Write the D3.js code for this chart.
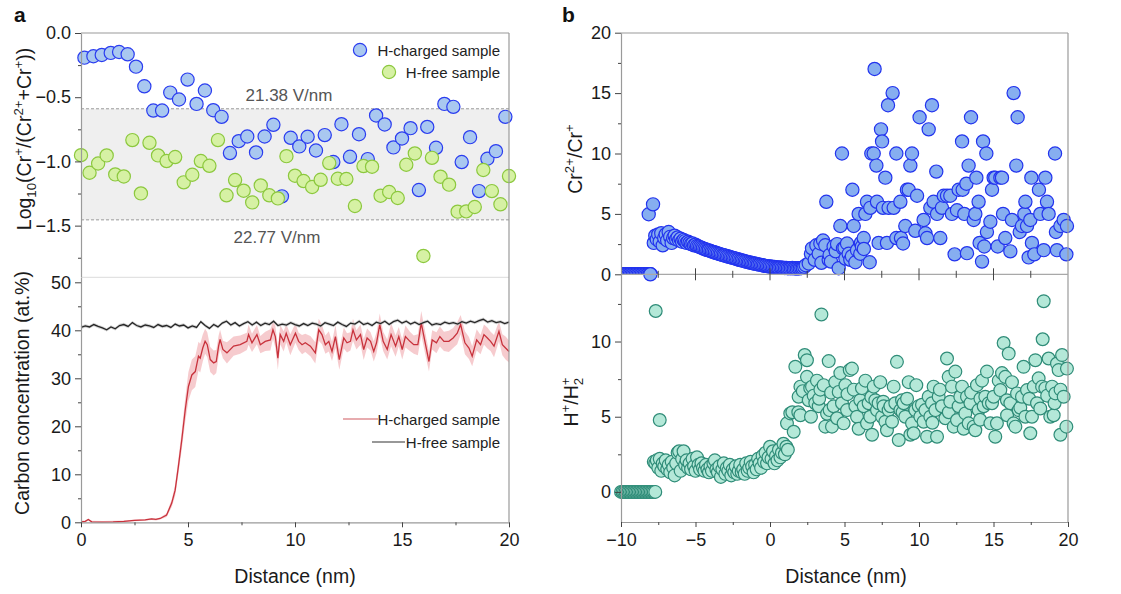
<!DOCTYPE html>
<html>
<head>
<meta charset="utf-8">
<script src="https://cdn.jsdelivr.net/npm/d3@7"></script>
<style>
  body { margin: 0; background: #fff; }
  svg text { font-family: "Liberation Sans", Arial, sans-serif; }
</style>
</head>
<body>
<svg id="chart" width="1121" height="594"></svg>
<script>
// ---------- Panel a (top): Log10(Cr+/(Cr2+ + Cr+)) vs distance ----------
const logChargedX = [0.16,0.58,0.97,1.39,1.78,2.18,2.57,2.96,3.38,3.79,4.17,4.58,4.98,5.40,5.79,6.18,6.57,6.96,7.37,7.77,8.18,8.58,8.99,9.39,9.80,10.20,10.59,10.98,11.39,11.79,12.17,12.57,12.99,13.40,13.79,14.19,14.60,15.00,15.40,15.79,16.18,16.59,16.98,17.40,17.79,18.18,18.60,18.99,19.39,19.83];
const logChargedY = [-0.192,-0.181,-0.171,-0.155,-0.148,-0.166,-0.262,-0.415,-0.604,-0.604,-0.464,-0.518,-0.363,-0.552,-0.448,-0.601,-0.653,-0.935,-0.842,-0.806,-0.930,-0.806,-0.715,-1.272,-0.816,-0.883,-0.808,-0.915,-0.795,-1.005,-0.710,-0.964,-0.788,-0.982,-0.642,-0.712,-0.891,-0.821,-0.741,-1.223,-0.731,-0.894,-0.552,-0.575,-1.005,-0.811,-1.231,-0.979,-0.920,-0.653];
const logFreeX = [0,0.4,0.8,1.2,1.6,2.0,2.4,2.8,3.2,3.6,4.0,4.4,4.8,5.2,5.6,6.0,6.4,6.8,7.2,7.6,8.0,8.4,8.8,9.2,9.6,10.0,10.4,10.8,11.2,11.6,12.0,12.4,12.8,13.2,13.6,14.0,14.4,14.8,15.2,15.6,16.0,16.4,16.8,17.2,17.6,18.0,18.4,18.8,19.2,19.6,20.0];
const logFreeY = [-0.951,-1.088,-1.016,-0.953,-1.101,-1.117,-0.834,-1.249,-0.855,-0.953,-0.997,-0.966,-1.163,-1.104,-0.997,-1.034,-0.834,-1.264,-1.145,-1.228,-1.319,-1.187,-1.264,-1.288,-0.959,-1.111,-1.153,-1.199,-1.143,-1.013,-1.135,-1.137,-1.347,-1.036,-1.041,-1.267,-1.238,-1.285,-1.026,-0.938,-1.736,-0.972,-1.119,-1.181,-1.391,-1.389,-1.355,-1.067,-1.231,-1.334,-1.114];
// evaporation-field band limits and their labels
const fieldBand = [-0.59, -1.455];
const fieldLabels = ["21.38 V/nm", "22.77 V/nm"];

// ---------- Panel a (bottom): carbon concentration profiles ----------
const carbonChargedX = [0,0.2,0.34,0.5,1.0,1.5,2.0,2.5,3.0,3.3,3.5,3.7,4.0,4.24,4.4,4.55,4.71,4.87,5.02,5.18,5.34,5.49,5.57,5.69,5.8,5.9,6.04,6.2,6.32,6.43,6.5,6.63,6.82,7.13,7.44,7.75,7.83,7.99,8.22,8.38,8.61,8.85,8.97,9.08,9.2,9.31,9.47,9.59,9.78,10.02,10.17,10.33,10.48,10.72,10.95,11.11,11.26,11.42,11.58,11.73,11.89,12.07,12.28,12.43,12.59,12.71,12.87,13.06,13.21,13.37,13.53,13.68,13.81,13.96,14.12,14.31,14.49,14.7,14.85,15.01,15.16,15.37,15.55,15.74,15.9,16.1,16.26,16.41,16.61,16.77,16.96,17.19,17.39,17.58,17.74,17.94,18.13,18.28,18.49,18.67,18.83,18.99,19.14,19.3,19.53,19.69,19.84,20.0];
const carbonChargedY = [0.1,0.2,0.6,0.1,0.05,0.1,0.2,0.4,0.5,0.7,0.6,0.8,1.5,4.0,6.7,11.6,17.2,23.4,28.3,30.7,31.4,34.6,34.2,36.3,37.7,37.0,33.9,33.2,33.5,36.7,38.1,36.0,35.3,36.7,37.0,37.7,39.1,37.4,39.1,37.0,37.7,38.0,40.1,38.7,34.2,39.1,37.7,39.4,37.0,39.4,37.7,37.0,37.4,36.7,35.3,40.1,39.1,37.0,37.7,35.6,38.7,33.9,38.4,37.4,37.7,40.1,38.0,39.1,36.0,38.4,37.7,35.6,37.4,41.2,37.7,36.0,39.1,36.7,38.7,36.0,38.7,37.7,37.0,37.0,41.5,37.0,33.5,38.0,37.4,38.7,37.7,37.7,38.4,39.4,41.2,37.4,36.3,34.6,38.0,37.0,39.1,38.4,37.7,36.7,39.8,37.0,36.3,35.6];
const carbonChargedErr = [0.2,0.2,0.2,0.2,0.2,0.2,0.2,0.2,0.2,0.2,0.2,0.2,0.4,0.8,1.2,1.6,2.0,2.5,3.0,3.2,3.2,3.0,3.0,2.8,2.6,2.6,2.6,2.6,2.4,2.2,
  2.0,1.8,2.2,2.0,1.9,1.8,2.1,1.9,2.0,1.8,2.0,2.2,1.9,2.3,2.4,2.0,2.1,1.9,2.2,2.0,1.8,2.0,1.9,2.1,2.2,2.3,2.0,1.9,2.1,2.0,
  2.4,2.1,2.2,2.0,1.9,2.3,2.0,2.1,2.2,2.0,1.9,2.1,2.2,2.3,2.0,2.1,2.4,2.2,2.0,2.1,2.3,2.0,1.9,2.2,2.5,2.3,2.1,2.0,2.2,2.1,
  2.0,2.2,2.1,2.3,2.0,2.4,2.3,2.1,2.2,2.0,2.1,2.2,2.0,2.3,2.1,2.2,2.4,2.3];
const carbonFree = [[0,40.6],[0.2,40.9],[0.4,40.7],[0.6,41.2],[0.8,40.8],[1.0,40.5],[1.2,40.1],[1.4,40.7],[1.6,40.3],[1.8,41.0],[2.0,41.2],[2.2,40.8],[2.4,41.6],[2.6,41.0],[2.8,40.7],[3.0,41.1],[3.2,40.9],[3.4,40.6],[3.6,41.2],[3.8,40.8],[4.0,41.0],[4.2,40.6],[4.4,41.3],[4.6,40.9],[4.8,41.1],[5.0,40.5],[5.2,40.9],[5.4,40.6],[5.6,41.8],[5.8,41.0],[6.0,40.4],[6.2,41.2],[6.4,40.7],[6.6,41.5],[6.8,41.9],[7.0,41.1],[7.2,41.6],[7.4,40.9],[7.6,41.4],[7.8,41.8],[8.0,41.1],[8.2,41.7],[8.4,41.0],[8.6,41.5],[8.8,41.2],[9.0,41.9],[9.2,41.0],[9.4,41.3],[9.6,41.1],[9.8,41.6],[10.0,41.2],[10.2,40.9],[10.4,41.4],[10.6,41.0],[10.8,41.5],[11.0,41.3],[11.2,40.9],[11.4,41.6],[11.6,41.3],[11.8,41.0],[12.0,41.7],[12.2,41.2],[12.4,40.8],[12.6,41.5],[12.8,41.3],[13.0,41.9],[13.2,41.2],[13.4,41.5],[13.6,41.0],[13.8,41.7],[14.0,41.4],[14.2,41.9],[14.4,41.2],[14.6,41.8],[14.8,42.1],[15.0,41.5],[15.2,41.9],[15.4,41.3],[15.6,41.7],[15.8,41.2],[16.0,41.6],[16.2,41.9],[16.4,41.1],[16.6,41.4],[16.8,41.2],[17.0,41.7],[17.2,41.4],[17.4,41.6],[17.6,41.3],[17.8,41.8],[18.0,41.5],[18.2,41.9],[18.4,41.6],[18.6,42.0],[18.8,42.3],[19.0,41.7],[19.2,42.0],[19.4,41.6],[19.6,41.8],[19.8,41.4],[20.0,41.7]];
const carbonFreeErr = 0.35;

// ---------- Panel b (top): Cr2+/Cr+ ratio ----------
const crZero = [[-10.0,0],[-9.9,0],[-9.8,0],[-9.7,0],[-9.6,0],[-9.5,0],[-9.4,0],[-9.3,0],[-9.2,0],[-9.1,0],[-9.0,0],[-8.9,0],[-8.8,0],[-8.7,0],[-8.6,0],[-8.5,0],[-8.4,0],[-8.3,0],[-8.2,0],[-8.1,0],[-8.0,0]];
const crEdge = [[-8.03,0],[-8.14,4.97],[-7.85,5.79]];
const crLow = [[-7.8,2.6],[-7.7,3.2],[-7.6,2.9],[-7.5,3.3],[-7.4,2.7],[-7.3,3.4],[-7.2,2.4],[-7.1,3.0],[-7.0,3.3],[-6.9,2.8],[-6.8,3.5],[-6.7,3.1],[-6.6,2.6],[-6.5,3.0],[-6.4,3.2],[-6.3,2.9],[-6.2,3.05],[-6.1,2.8],[-6.0,2.95],[-5.9,2.7],[-5.8,2.85],[-5.7,2.75],[-5.6,2.6],[-5.5,2.7],[-5.4,2.6],[-5.3,2.5],[-5.2,2.55],[-5.1,2.4],[-5.0,2.45],[-4.9,2.35],[-4.8,2.3],[-4.7,2.25],[-4.6,2.2],[-4.5,2.15],[-4.4,2.1],[-4.3,2.05],[-4.2,2.0],[-4.1,1.98],[-4.0,1.93],[-3.9,1.88],[-3.8,1.85],[-3.7,1.8],[-3.6,1.76],[-3.5,1.72],[-3.4,1.68],[-3.3,1.65],[-3.2,1.6],[-3.1,1.58],[-3.0,1.55],[-2.9,1.5],[-2.8,1.47],[-2.7,1.43],[-2.6,1.4],[-2.5,1.36],[-2.4,1.33],[-2.3,1.3],[-2.2,1.25],[-2.1,1.22],[-2.0,1.18],[-1.9,1.15],[-1.8,1.12],[-1.7,1.08],[-1.6,1.05],[-1.5,1.02],[-1.4,0.99],[-1.3,0.96],[-1.2,0.93],[-1.1,0.9],[-1.0,0.88],[-0.9,0.85],[-0.8,0.82],[-0.7,0.8],[-0.6,0.77],[-0.5,0.75],[-0.4,0.72],[-0.3,0.7],[-0.2,0.68],[-0.1,0.66],[0.0,0.64],[0.1,0.62],[0.2,0.6],[0.3,0.6],[0.4,0.58],[0.5,0.57],[0.6,0.55],[0.7,0.56],[0.8,0.54],[0.9,0.53],[1.0,0.52],[1.1,0.53],[1.2,0.5],[1.3,0.51],[1.4,0.5],[1.5,0.52],[1.6,0.49],[1.7,0.5],[1.8,0.48],[1.9,0.5],[2.0,0.49],[2.1,0.52],[2.2,0.55],[2.3,0.62],[2.4,0.75]];
const crScatter = [[2.60,0.9],[2.75,1.7],[2.82,2.15],[3.0,1.2],[3.11,2.4],[3.27,1.7],[3.38,2.55],[3.45,0.95],[3.56,2.8],[3.71,2.4],[3.78,6.0],[3.94,1.2],[4.0,1.6],[4.09,1.05],[4.27,2.3],[4.41,1.9],[4.5,2.5],[4.61,0.5],[4.72,4.0],[4.83,10.0],[4.90,2.15],[5.0,2.2],[5.06,1.3],[5.17,2.55],[5.28,1.7],[5.39,1.2],[5.5,1.5],[5.53,7.0],[5.62,4.0],[5.73,1.0],[5.84,2.0],[5.95,5.0],[6.06,1.7],[6.1,2.6],[6.17,2.3],[6.29,3.0],[6.3,2.1],[6.40,5.0],[6.51,6.0],[6.69,1.0],[6.73,5.5],[6.80,10.0],[6.96,10.0],[7.02,17.0],[7.14,9.0],[7.18,6.0],[7.29,2.6],[7.45,12.0],[7.52,11.0],[7.58,5.5],[7.74,8.0],[7.85,2.6],[7.92,14.0],[7.96,5.5],[8.23,15.0],[8.30,5.5],[8.48,10.0],[8.48,3.0],[8.75,6.0],[8.79,3.0],[8.93,2.55],[9.08,4.0],[9.19,7.0],[9.31,7.0],[9.42,9.0],[9.53,10.0],[9.75,3.6],[9.87,6.5],[10.04,13.0],[10.31,4.5],[10.43,3.4],[10.54,3.0],[10.65,12.0],[10.76,5.5],[10.87,14.0],[10.98,6.0],[11.16,8.5],[11.21,5.0],[11.43,3.0],[11.54,5.5],[11.66,6.5],[11.88,6.5],[12.10,6.5],[12.21,5.0],[12.39,1.65],[12.55,5.3],[12.66,7.0],[12.89,11.0],[12.93,7.0],[13.04,5.0],[13.18,7.5],[13.22,1.75],[13.33,9.0],[13.49,13.0],[13.67,4.5],[13.78,5.0],[13.85,8.0],[14.00,6.0],[14.07,2.6],[14.23,1.05],[14.30,11.0],[14.38,2.3],[14.52,10.0],[14.56,3.5],[14.79,4.35],[14.90,7.0],[15.01,8.0],[15.12,8.0],[15.28,2.3],[15.46,8.0],[15.57,8.0],[15.64,5.0],[15.79,3.0],[16.13,1.9],[16.24,4.5],[16.35,15.0],[16.53,9.0],[16.62,13.0],[16.76,3.5],[16.91,4.0],[17.07,5.0],[17.14,6.0],[17.25,4.0],[17.36,1.4],[17.47,4.5],[17.54,8.0],[17.58,2.6],[17.74,1.65],[18.05,7.0],[18.14,5.0],[18.37,2.0],[18.48,8.0],[18.59,6.0],[18.70,5.0],[19.13,10.0],[19.19,3.5],[19.26,2.0],[19.49,4.0],[19.71,4.5],[19.89,1.65],[19.93,4.0]];

// ---------- Panel b (bottom): H+/H2+ ratio ----------
const hZero = [[-10.0,0],[-9.9,0],[-9.8,0],[-9.7,0],[-9.6,0],[-9.5,0],[-9.4,0],[-9.3,0],[-9.2,0],[-9.1,0],[-9.0,0],[-8.9,0],[-8.8,0],[-8.7,0],[-8.6,0],[-8.5,0],[-8.4,0],[-8.3,0],[-8.2,0],[-8.1,0],[-8.0,0],[-7.9,0],[-7.8,0],[-7.7,0]];
const hLow = [[-7.8,2.0],[-7.7,1.9],[-7.6,2.1],[-7.5,1.6],[-7.4,2.2],[-7.3,1.4],[-7.2,1.9],[-7.1,1.7],[-7.0,2.1],[-6.9,1.5],[-6.8,1.8],[-6.7,1.3],[-6.6,2.0],[-6.5,1.6],[-6.4,1.1],[-6.3,1.9],[-6.2,2.6],[-6.1,2.7],[-6.0,1.4],[-5.9,2.2],[-5.8,2.7],[-5.7,1.8],[-5.6,2.1],[-5.5,1.6],[-5.4,1.9],[-5.3,1.5],[-5.2,2.2],[-5.1,1.7],[-5.0,1.4],[-4.9,2.3],[-4.8,1.8],[-4.7,1.5],[-4.6,1.9],[-4.5,1.6],[-4.4,1.4],[-4.3,1.8],[-4.2,1.5],[-4.1,1.3],[-4.0,1.7],[-3.9,1.4],[-3.8,1.9],[-3.7,2.1],[-3.6,1.5],[-3.5,1.3],[-3.4,1.7],[-3.3,1.0],[-3.2,1.5],[-3.1,1.9],[-3.0,1.2],[-2.9,1.6],[-2.8,1.4],[-2.7,1.8],[-2.6,1.1],[-2.5,1.5],[-2.4,1.3],[-2.3,1.7],[-2.2,1.2],[-2.1,1.4],[-2.0,1.8],[-1.9,1.3],[-1.8,1.5],[-1.7,1.2],[-1.6,1.9],[-1.5,1.4],[-1.4,1.6],[-1.3,2.0],[-1.2,1.7],[-1.1,1.3],[-1.0,1.8],[-0.9,1.5],[-0.8,2.2],[-0.7,1.9],[-0.6,1.6],[-0.5,2.4],[-0.4,2.0],[-0.3,2.6],[-0.2,1.9],[-0.1,2.3],[0.0,3.0],[0.1,2.2],[0.2,2.7],[0.3,1.9],[0.4,2.4],[0.5,2.1],[0.6,2.8],[0.7,2.3],[0.8,2.6],[0.9,3.2],[1.0,2.5],[1.1,3.0],[1.2,2.8]];
const hOutliers = [[-7.67,12.03],[-7.4,4.78],[3.45,11.8],[18.37,12.68],[18.3,10.15]];
const hScatter = [[1.14,4.56],[1.36,5.22],[1.5,5.3],[1.59,4.0],[1.70,8.32],[1.9,5.3],[1.92,6.33],[2.04,7.0],[2.04,5.1],[2.2,6.7],[2.33,9.1],[2.48,8.76],[2.48,7.65],[2.60,6.1],[2.7,6.9],[2.75,5.0],[2.82,7.0],[2.93,6.4],[3.04,5.9],[3.15,7.4],[3.27,5.7],[3.3,6.2],[3.38,6.8],[3.60,7.1],[3.71,4.34],[3.83,5.2],[3.94,8.7],[4.00,5.44],[4.1,6.6],[4.16,4.34],[4.27,5.7],[4.38,7.3],[4.50,4.9],[4.61,6.65],[4.72,7.9],[4.83,5.9],[4.94,4.56],[5.06,7.1],[5.17,5.44],[5.2,6.5],[5.35,8.1],[5.50,8.2],[5.62,6.8],[5.73,5.7],[5.84,5.0],[5.95,4.2],[6.06,6.1],[6.17,6.9],[6.29,5.7],[6.40,7.4],[6.51,4.56],[6.62,5.9],[6.73,5.0],[6.8,6.3],[6.85,3.8],[6.96,7.0],[7.07,6.1],[7.18,5.44],[7.29,5.9],[7.40,7.3],[7.52,5.0],[7.6,6.0],[7.63,5.7],[7.74,4.67],[7.85,4.1],[7.96,5.44],[8.08,5.7],[8.19,4.67],[8.30,7.0],[8.41,5.9],[8.52,8.65],[8.64,3.45],[8.75,5.44],[8.86,6.1],[8.9,5.3],[8.97,5.9],[9.08,5.0],[9.2,6.2],[9.31,7.3],[9.42,3.8],[9.53,4.56],[9.64,3.9],[9.75,5.44],[9.82,7.1],[9.98,5.7],[10.09,5.0],[10.2,5.8],[10.31,4.67],[10.43,5.44],[10.54,3.67],[10.65,6.33],[10.76,5.0],[10.87,5.9],[10.9,4.6],[10.98,7.0],[11.10,5.44],[11.21,3.67],[11.32,6.33],[11.4,6.8],[11.54,5.7],[11.77,4.9],[11.88,8.87],[11.99,7.65],[12.0,5.3],[12.10,6.0],[12.21,7.0],[12.33,4.34],[12.44,8.0],[12.55,4.78],[12.66,5.7],[12.77,6.33],[12.89,7.0],[13.00,4.2],[13.11,5.22],[13.22,6.33],[13.33,4.56],[13.45,5.9],[13.5,6.6],[13.67,4.34],[13.78,4.1],[13.89,7.1],[14.00,5.44],[14.1,4.8],[14.12,6.2],[14.23,7.4],[14.34,5.7],[14.45,6.33],[14.56,8.0],[14.68,5.9],[14.79,4.56],[14.90,5.9],[15.01,6.33],[15.12,3.67],[15.23,4.56],[15.35,7.4],[15.46,6.77],[15.57,7.9],[15.68,9.9],[15.79,7.65],[15.9,6.1],[15.91,5.1],[16.02,9.2],[16.13,5.9],[16.24,7.3],[16.35,4.56],[16.47,4.34],[16.58,6.55],[16.69,5.44],[16.8,5.6],[16.91,6.33],[17.02,8.32],[17.14,5.0],[17.25,6.77],[17.4,6.2],[17.47,3.9],[17.58,5.0],[17.70,7.0],[17.81,8.76],[17.92,5.9],[18.03,7.55],[18.14,5.55],[18.26,7.0],[18.48,6.9],[18.6,6.4],[18.70,8.87],[18.81,5.0],[18.93,7.0],[19.04,5.1],[19.1,5.9],[19.15,6.55],[19.26,8.54],[19.37,8.1],[19.49,3.8],[19.5,6.8],[19.60,9.1],[19.71,6.33],[19.89,4.34],[19.93,8.2]];

// ---------- axis ticks ----------
const ticksLogMajor = [0, -0.5, -1.0, -1.5];
const ticksLogMinor = [-0.25, -0.75, -1.25, -1.75];
const ticksCarbonMajor = [0, 10, 20, 30, 40, 50];
const ticksCarbonMinor = [5, 15, 25, 35, 45];
const ticksDistAMajor = [0, 5, 10, 15, 20];
const ticksDistAMinor = [2.5, 7.5, 12.5, 17.5];
const ticksCrMajor = [0, 5, 10, 15, 20];
const ticksCrMinor = [2.5, 7.5, 12.5, 17.5];
const ticksHMajor = [0, 5, 10];
const ticksHMinor = [2.5, 7.5, 12.5];
const ticksDistBMajor = [-10, -5, 0, 5, 10, 15, 20];
const ticksDistBMinor = [-7.5, -2.5, 2.5, 7.5, 12.5, 17.5];

const FONT = '"Liberation Sans", Arial, sans-serif';
const svg = d3.select('#chart');

// scales
const xA = d3.scaleLinear([0, 20], [81, 509]);
const yLog = d3.scaleLinear([-1.9, 0], [277, 33]);
const yCarbon = d3.scaleLinear([0, 51], [522.3, 277.5]);
const xB = d3.scaleLinear([-10, 20], [621, 1068]);
const yCr = d3.scaleLinear([0, 20], [274.3, 32.7]);
const yH = d3.scaleLinear([-2, 14.47], [522, 274.3]);

// text with super/subscripts
function rich(sel, parts, size) {
  let cur = 0;
  parts.forEach(([t, mode, dx]) => {
    const target = mode === 'sup' ? -0.42 * size : mode === 'sub' ? 0.28 * size : 0;
    const ts = sel.append('tspan').text(t).attr('dy', target - cur);
    if (mode) ts.attr('font-size', size * 0.68);
    if (dx) ts.attr('dx', dx);
    cur = target;
  });
}

function styleAxis(g) {
  g.attr('font-family', FONT).attr('font-size', 18);
  g.selectAll('.domain').attr('stroke', '#9a9a9a').attr('stroke-width', 1.2);
  g.selectAll('.tick line').attr('stroke', '#444').attr('stroke-width', 1);
  g.selectAll('.tick text').attr('fill', '#1a1a1a');
}
function leftAxis(scale, x, majors, minors, fmt) {
  const g = svg.append('g').attr('transform', `translate(${x},0)`)
    .call(d3.axisLeft(scale).tickValues(majors).tickSize(6).tickSizeOuter(0).tickPadding(4).tickFormat(fmt));
  styleAxis(g);
  const m = svg.append('g').attr('transform', `translate(${x},0)`)
    .call(d3.axisLeft(scale).tickValues(minors).tickSize(3).tickFormat(''));
  m.select('.domain').remove();
  m.selectAll('.tick line').attr('stroke', '#444');
}
function bottomAxis(scale, y, majors, minors, fmt) {
  const g = svg.append('g').attr('transform', `translate(0,${y})`)
    .call(d3.axisBottom(scale).tickValues(majors).tickSize(5).tickSizeOuter(0).tickPadding(6).tickFormat(fmt));
  styleAxis(g);
  const m = svg.append('g').attr('transform', `translate(0,${y})`)
    .call(d3.axisBottom(scale).tickValues(minors).tickSize(3).tickFormat(''));
  m.select('.domain').remove();
  m.selectAll('.tick line').attr('stroke', '#444');
}
function frameLine(x1, y1, x2, y2, color) {
  svg.append('line').attr('x1', x1).attr('y1', y1).attr('x2', x2).attr('y2', y2)
    .attr('stroke', color || '#9a9a9a').attr('stroke-width', 1.2);
}
function dots(data, sx, sy, r, fill, stroke, clip) {
  const g = svg.append('g');
  if (clip) g.attr('clip-path', clip);
  g.selectAll('circle').data(data).join('circle')
    .attr('cx', d => sx(d[0])).attr('cy', d => sy(d[1])).attr('r', r)
    .attr('fill', fill).attr('stroke', stroke).attr('stroke-width', 1.2);
}

// ================= Panel a =================
// field band
svg.append('rect')
  .attr('x', xA(0)).attr('width', xA(20) - xA(0))
  .attr('y', yLog(fieldBand[0])).attr('height', yLog(fieldBand[1]) - yLog(fieldBand[0]))
  .attr('fill', '#efefef');
fieldBand.forEach(v => {
  svg.append('line').attr('x1', xA(0)).attr('x2', xA(20)).attr('y1', yLog(v)).attr('y2', yLog(v))
    .attr('stroke', '#9a9a9a').attr('stroke-width', 1).attr('stroke-dasharray', '3,2');
});
svg.append('text').attr('x', 289).attr('y', yLog(fieldBand[0]) - 8).attr('text-anchor', 'middle')
  .attr('font-size', 17).attr('fill', '#555').text(fieldLabels[0]);
svg.append('text').attr('x', 277).attr('y', yLog(fieldBand[1]) + 23).attr('text-anchor', 'middle')
  .attr('font-size', 17).attr('fill', '#555').text(fieldLabels[1]);

// separator between the two stacked plots
frameLine(xA(0), 277.3, xA(20), 277.3, '#e2e2e2');

const BLUE_A = '#a9c8f0', BLUE_EDGE = '#2a3cf0';
const GREEN_A = '#d6f1a4', GREEN_EDGE = '#8cc83e';
dots(logChargedX.map((x, i) => [x, logChargedY[i]]), xA, yLog, 6.6, BLUE_A, BLUE_EDGE);
dots(logFreeX.map((x, i) => [x, logFreeY[i]]), xA, yLog, 6.6, GREEN_A, GREEN_EDGE);

// carbon profiles
const redPts = carbonChargedX.map((x, i) => ({ x, y: carbonChargedY[i], e: carbonChargedErr[i] }));
svg.append('path').datum(redPts)
  .attr('d', d3.area().x(d => xA(d.x)).y0(d => yCarbon(d.y - d.e)).y1(d => yCarbon(d.y + d.e)))
  .attr('fill', '#f4c2c5').attr('opacity', 0.85);
svg.append('path').datum(carbonFree)
  .attr('d', d3.area().x(d => xA(d[0])).y0(d => yCarbon(d[1] - carbonFreeErr)).y1(d => yCarbon(d[1] + carbonFreeErr)))
  .attr('fill', '#c8c8c8').attr('opacity', 0.8);
svg.append('path').datum(redPts)
  .attr('d', d3.line().x(d => xA(d.x)).y(d => yCarbon(d.y)))
  .attr('fill', 'none').attr('stroke', '#c8323c').attr('stroke-width', 1.3);
svg.append('path').datum(carbonFree)
  .attr('d', d3.line().x(d => xA(d[0])).y(d => yCarbon(d[1])))
  .attr('fill', 'none').attr('stroke', '#262626').attr('stroke-width', 1.3);

// frame + axes
frameLine(xA(0), 33, xA(20), 33);
frameLine(xA(20), 33, xA(20), 522.3);
leftAxis(yLog, xA(0), ticksLogMajor, ticksLogMinor, d3.format('.1f'));
leftAxis(yCarbon, xA(0), ticksCarbonMajor, ticksCarbonMinor, d3.format('d'));
bottomAxis(xA, 522.3, ticksDistAMajor, ticksDistAMinor, d3.format('d'));

// legends
svg.append('circle').attr('cx', 360).attr('cy', 50).attr('r', 6.6).attr('fill', BLUE_A).attr('stroke', BLUE_EDGE).attr('stroke-width', 1.2);
svg.append('text').attr('x', 500).attr('y', 55.5).attr('text-anchor', 'end').attr('font-size', 15).attr('fill', '#222').text('H-charged sample');
svg.append('circle').attr('cx', 389).attr('cy', 72).attr('r', 6.6).attr('fill', GREEN_A).attr('stroke', GREEN_EDGE).attr('stroke-width', 1.2);
svg.append('text').attr('x', 500).attr('y', 77.5).attr('text-anchor', 'end').attr('font-size', 15).attr('fill', '#222').text('H-free sample');

frameLine(343, 419, 378, 419, '#d05a60');
svg.append('text').attr('x', 500).attr('y', 424.5).attr('text-anchor', 'end').attr('font-size', 15).attr('fill', '#222').text('H-charged sample');
frameLine(372, 442, 405, 442, '#333');
svg.append('text').attr('x', 500).attr('y', 447.5).attr('text-anchor', 'end').attr('font-size', 15).attr('fill', '#222').text('H-free sample');

// axis titles
const tLog = svg.append('text').attr('transform', 'translate(31,139) rotate(-90)')
  .attr('text-anchor', 'middle').attr('font-size', 19.5).attr('fill', '#1a1a1a');
rich(tLog, [['Log'], ['10', 'sub'], ['(Cr'], ['+', 'sup'], ['/(Cr'], ['2+', 'sup'], ['+Cr'], ['+', 'sup'], ['))']], 19.5);
svg.append('text').attr('transform', 'translate(29,393) rotate(-90)')
  .attr('text-anchor', 'middle').attr('font-size', 19.5).attr('fill', '#1a1a1a')
  .text('Carbon concentration (at.%)');
svg.append('text').attr('x', 295).attr('y', 583).attr('text-anchor', 'middle')
  .attr('font-size', 19.5).attr('fill', '#1a1a1a').text('Distance (nm)');
svg.append('text').attr('x', 14).attr('y', 22).attr('font-size', 21).attr('font-weight', 'bold').attr('fill', '#111').text('a');

// ================= Panel b =================
svg.append('defs').append('clipPath').attr('id', 'crClip')
  .append('rect').attr('x', xB(-10)).attr('y', yCr(20)).attr('width', xB(20) - xB(-10)).attr('height', yCr(0) - yCr(20));

const BLUE_B = '#86aef0', BLUE_B_EDGE = '#2233ee';
const TEAL = '#b4e8d8', TEAL_EDGE = '#2f8c78';

dots(crZero, xB, yCr, 6.6, BLUE_B, BLUE_B_EDGE, 'url(#crClip)');
dots(crEdge, xB, yCr, 6.6, BLUE_B, BLUE_B_EDGE);
dots(crLow, xB, yCr, 6.6, BLUE_B, BLUE_B_EDGE);
dots(crScatter, xB, yCr, 6.6, BLUE_B, BLUE_B_EDGE);

dots(hZero, xB, yH, 6.4, TEAL, TEAL_EDGE);
dots(hLow, xB, yH, 6.4, TEAL, TEAL_EDGE);
dots(hScatter, xB, yH, 6.4, TEAL, TEAL_EDGE);
dots(hOutliers, xB, yH, 6.4, TEAL, TEAL_EDGE);

// frame
frameLine(xB(-10), 33, xB(20), 33);
frameLine(xB(20), 33, xB(20), 522);
frameLine(xB(-10), yCr(0), xB(20), yCr(0), '#a8a8a8');
// ticks on the shared boundary between the two plots
ticksDistBMajor.filter(v => v > -10 && v < 20).forEach(v => {
  svg.append('line').attr('x1', xB(v)).attr('x2', xB(v)).attr('y1', yCr(0) - 6).attr('y2', yCr(0) + 6).attr('stroke', '#444');
});
ticksDistBMinor.forEach(v => {
  svg.append('line').attr('x1', xB(v)).attr('x2', xB(v)).attr('y1', yCr(0) - 3.5).attr('y2', yCr(0) + 3.5).attr('stroke', '#444');
});
leftAxis(yCr, xB(-10), ticksCrMajor, ticksCrMinor, d3.format('d'));
leftAxis(yH, xB(-10), ticksHMajor, ticksHMinor, d3.format('d'));
bottomAxis(xB, 522, ticksDistBMajor, ticksDistBMinor, d3.format('d'));

const tCr = svg.append('text').attr('transform', 'translate(582,159) rotate(-90)')
  .attr('text-anchor', 'middle').attr('font-size', 19.5).attr('fill', '#1a1a1a');
rich(tCr, [['Cr'], ['2+', 'sup'], ['/Cr'], ['+', 'sup']], 19.5);
const tH = svg.append('text').attr('transform', 'translate(578,402) rotate(-90)')
  .attr('text-anchor', 'middle').attr('font-size', 19.5).attr('fill', '#1a1a1a');
rich(tH, [['H'], ['+', 'sup'], ['/H'], ['2', 'sub'], ['+', 'sup', -7.4]], 19.5);
svg.append('text').attr('x', 846).attr('y', 583).attr('text-anchor', 'middle')
  .attr('font-size', 19.5).attr('fill', '#1a1a1a').text('Distance (nm)');
svg.append('text').attr('x', 562).attr('y', 22).attr('font-size', 21).attr('font-weight', 'bold').attr('fill', '#111').text('b');
</script>
</body>
</html>
